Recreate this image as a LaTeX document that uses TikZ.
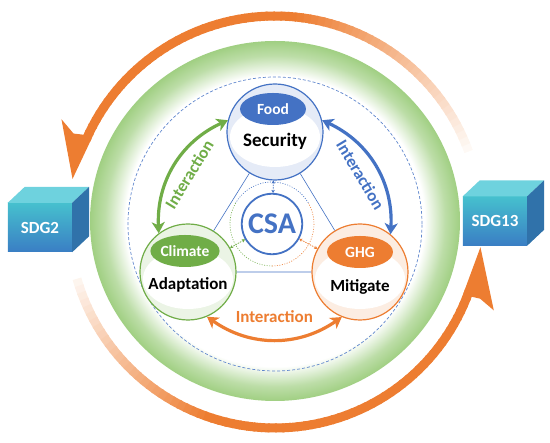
\documentclass[tikz,border=0pt]{standalone}
\usepackage{fontspec}
\setmainfont{Carlito}
\usetikzlibrary{positioning, arrows.meta, shapes.geometric}
\definecolor{csablue}{RGB}{68,114,196}
\definecolor{csagreen}{RGB}{112,173,71}
\definecolor{csaorange}{RGB}{237,125,49}
\definecolor{ringgreen}{RGB}{160,207,130}
\definecolor{cubeteal}{RGB}{70,192,206}
\definecolor{cubeblue}{RGB}{58,126,196}
\definecolor{cubetop}{RGB}{110,210,222}
\definecolor{cubeside}{RGB}{48,114,170}
\pgfdeclareradialshading{greenring}{\pgfpoint{0bp}{0bp}}{color(0bp)=(white); color(20.2bp)=(white); color(23bp)=(ringgreen!70!white); color(25bp)=(ringgreen); color(50bp)=(ringgreen)}

\begin{document}
\begin{tikzpicture}[x=1pt, y=1pt, every node/.style={font=\bfseries\fontsize{17}{17}\selectfont},
    goal/.style={circle, draw=#1, line width=1.2pt, fill=#1!14, minimum size=96pt, inner sep=0pt},
    tag/.style={ellipse, fill=#1, text=white, minimum width=66pt, minimum height=32pt, inner sep=0pt, font=\bfseries\fontsize{15.5}{15.5}\selectfont},
    cube/.style={minimum width=64pt, minimum height=49pt, inner sep=0pt, text=white, top color=cubeteal, bottom color=cubeblue, font=\bfseries\fontsize{17}{17}\selectfont},
    interact/.style={draw=#1, line width=3.2pt, {Stealth[length=11pt,width=13pt,inset=3pt]}-{Stealth[length=11pt,width=13pt,inset=3pt]}},
    link/.style={draw=#1, line width=0.7pt, dash pattern=on 1.5pt off 1pt, {Stealth[length=3pt,width=3.5pt]}-{Stealth[length=3pt,width=3.5pt]}}]
    \useasboundingbox (-275,-221) rectangle (275,222);

    % outer cycle
    \foreach \a in {20,22,...,154} {
        \pgfmathsetmacro\p{min(100,5+(\a-20)*1.5)}
        \draw[csaorange!\p!white, line width=9pt] (\a:206) arc[start angle=\a, end angle=\a+2.5, radius=206];
    }
    \fill[csaorange] (168:207) -- (154.3:237) -- (156.3:220) -- (155.5:210.5) -- (155.5:201.5) -- cycle;
    \foreach \a in {196,198,...,338} {
        \pgfmathsetmacro\p{min(100,8+(\a-196)*1.7)}
        \draw[csaorange!\p!white, line width=9pt] (\a:206) arc[start angle=\a, end angle=\a+2.5, radius=206];
    }
    \fill[csaorange] (353:207) -- (338:236) -- (339.5:219) -- (339.2:210.5) -- (339.2:201.5) -- cycle;

    \shade[shading=greenring] (0,1) ellipse [x radius=185, y radius=180];
    \draw[csablue!85, line width=0.7pt, dash pattern=on 3pt off 2pt] (0,-2) circle [radius=147];

    \node[cube] (sdgtwo) at (-235,-5.5) {SDG2};
    \node[cube] (sdgthirteen) at (220,1) {SDG13};
    \foreach \c in {sdgtwo, sdgthirteen} {
        \fill[cubetop] (\c.north west) -- ++(17,16) -- ([shift={(17,16)}]\c.north east) -- (\c.north east) -- cycle;
        \fill[cubeside] (\c.north east) -- ++(17,16) -- ([shift={(17,16)}]\c.south east) -- (\c.south east) -- cycle;
    }

    \node[goal=csablue] (food) at (0,90) {};
    \node[goal=csagreen] (climate) at (-87,-50) {};
    \node[goal=csaorange] (ghg) at (85,-50) {};
    \fill[white] ([yshift=-5pt]food.center) ellipse [x radius=45, y radius=30];
    \fill[white] ([yshift=-7pt]climate.center) ellipse [x radius=45, y radius=30];
    \fill[white] ([yshift=-7pt]ghg.center) ellipse [x radius=45, y radius=30];

    \node[tag=csablue] (foodtag) at ([xshift=-2pt, yshift=23pt]food.center) {Food};
    \node (foodtext) at ([yshift=-9pt]food.center) {\fontsize{19}{19}\selectfont Security};
    \node[tag=csagreen] (climatetag) at ([xshift=-3pt, yshift=21pt]climate.center) {Climate};
    \node (climatetext) at ([yshift=-13pt]climate.center) {Adaptation};
    \node[tag=csaorange] (ghgtag) at ([yshift=20pt]ghg.center) {GHG};
    \node (ghgtext) at ([yshift=-15pt]ghg.center) {Mitigate};

    \draw[csablue, line width=0.6pt] (food) -- (climate) -- (ghg) -- (food);

    \node[circle, draw=csablue, line width=1.8pt, fill=white, minimum size=60pt, text=csablue, font=\bfseries\fontsize{30}{30}\selectfont] (csa) at (-3,-2) {CSA};
    \draw[csablue, line width=0.6pt, dash pattern=on 1pt off 1.5pt] ([shift={(-3,-2)}]30:42) arc[start angle=30, end angle=150, radius=42];
    \draw[csagreen, line width=0.6pt, dash pattern=on 1pt off 1.5pt] ([shift={(-3,-2)}]150:42) arc[start angle=150, end angle=270, radius=42];
    \draw[csaorange, line width=0.6pt, dash pattern=on 1pt off 1.5pt] ([shift={(-3,-2)}]270:42) arc[start angle=270, end angle=390, radius=42];
    \draw[link=csablue] (csa) -- (food);
    \draw[link=csagreen] (csa) -- (climate);
    \draw[link=csaorange] (csa) -- (ghg);

    \draw[interact=csagreen] (climate.127) to[bend left=34] node[midway, sloped, below=6pt, text=csagreen] (greenlabel) {Interaction} (food.166);
    \draw[interact=csablue] (food.14) to[bend left=34] node[midway, sloped, below=6pt, text=csablue] (bluelabel) {Interaction} (ghg.51);
    \draw[interact=csaorange] (climate.-67) to[bend right=35] node[midway, above=12pt, text=csaorange] (orangelabel) {Interaction} (ghg.248);
\end{tikzpicture}
\end{document}
